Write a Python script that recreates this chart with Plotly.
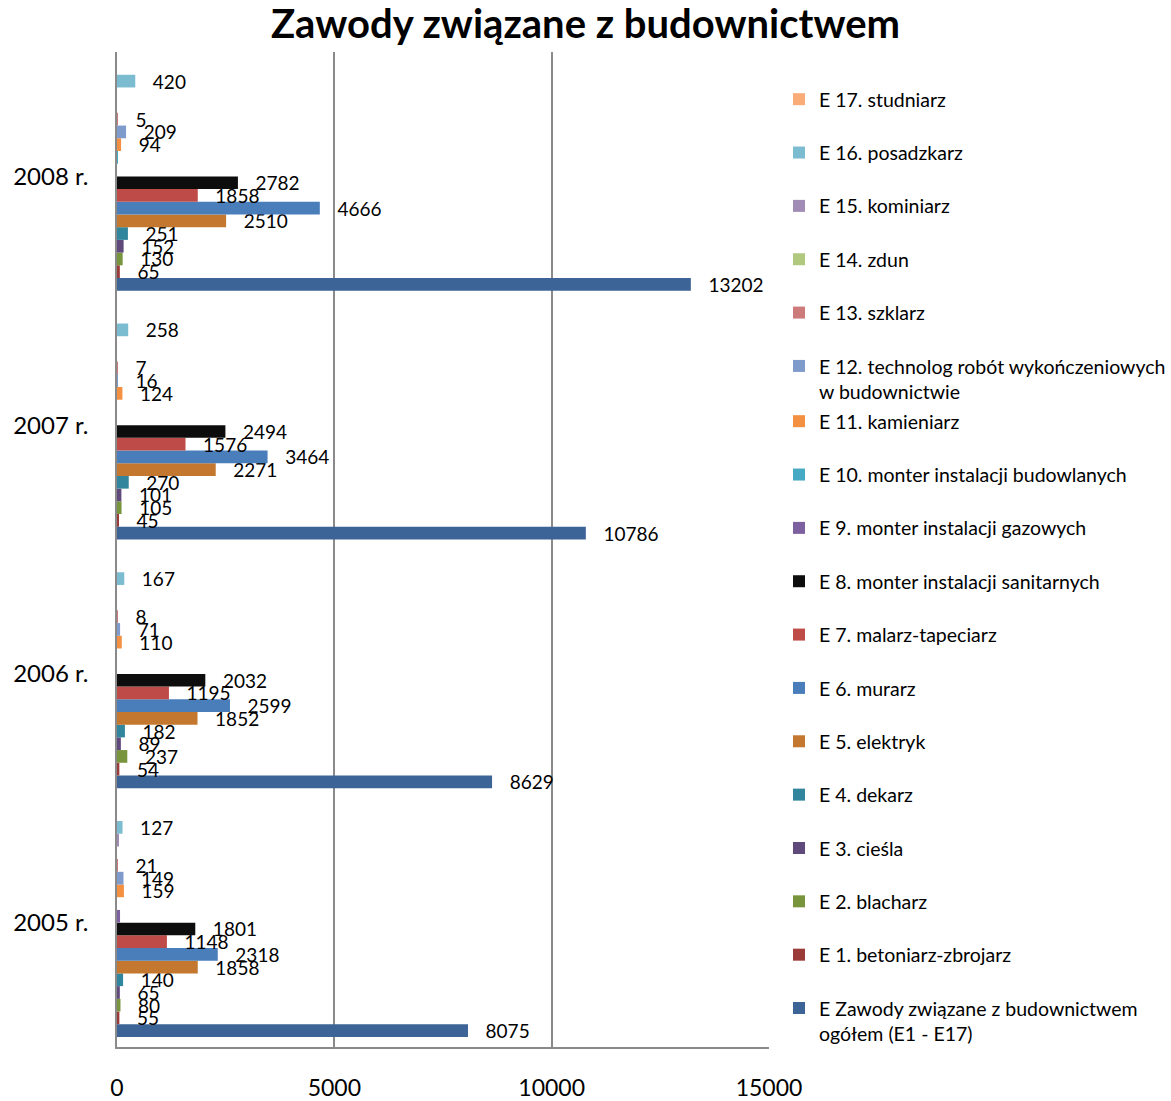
import plotly.graph_objects as go

years = ["2005 r.", "2006 r.", "2007 r.", "2008 r."]

series_names = [
    "E Zawody związane z budownictwem<br>ogółem (E1 - E17)",
    "E 1. betoniarz-zbrojarz",
    "E 2. blacharz",
    "E 3. cieśla",
    "E 4. dekarz",
    "E 5. elektryk",
    "E 6. murarz",
    "E 7. malarz-tapeciarz",
    "E 8. monter instalacji sanitarnych",
    "E 9. monter instalacji gazowych",
    "E 10. monter instalacji budowlanych",
    "E 11. kamieniarz",
    "E 12. technolog robót wykończeniowych<br>w budownictwie",
    "E 13. szklarz",
    "E 14. zdun",
    "E 15. kominiarz",
    "E 16. posadzkarz",
    "E 17. studniarz",
]

ogolem = [8075, 8629, 10786, 13202]
e1 = [55, 54, 45, 65]
e2 = [80, 237, 105, 130]
e3 = [65, 89, 101, 152]
e4 = [140, 182, 270, 251]
e5 = [1858, 1852, 2271, 2510]
e6 = [2318, 2599, 3464, 4666]
e7 = [1148, 1195, 1576, 1858]
e8 = [1801, 2032, 2494, 2782]
e9 = [70, None, None, None]
e10 = [None, None, None, 20]
e11 = [159, 110, 124, 94]
e12 = [149, 71, 16, 209]
e13 = [21, 8, 7, 5]
e14 = [None, None, None, None]
e15 = [35, None, None, None]
e16 = [127, 167, 258, 420]
e17 = [None, None, None, None]

# values drawn without a data label in the original
unlabeled = {(9, 0), (15, 0), (10, 3)}

values = [ogolem, e1, e2, e3, e4, e5, e6, e7, e8, e9, e10, e11, e12, e13, e14, e15, e16, e17]

colors = [
    "#3D6497", "#9B3B39", "#78943D", "#604A7C", "#31859D", "#C4772F",
    "#4A7EBB", "#BE4B48", "#0D0D0D", "#7D60A0", "#46AAC5", "#F39041",
    "#7F9BCB", "#CD7B7A", "#B0C97F", "#A08CB4", "#7CBCD1", "#F9AB78",
]

FONT = "Lato"
pad = "\u00a0\u00a0\u00a0"

fig = go.Figure()
for i, (name, vals, col) in enumerate(zip(series_names, values, colors)):
    texts = []
    for j, v in enumerate(vals):
        if v is None or (i, j) in unlabeled:
            texts.append("")
        else:
            texts.append(pad + str(v))
    fig.add_trace(go.Bar(
        y=years, x=vals, name=name, orientation="h",
        marker=dict(color=col, line=dict(width=0)),
        text=texts, textposition="outside", constraintext="none",
        cliponaxis=False,
        textfont=dict(family=FONT, size=19, color="black"),
        legendgroup="g%d" % i,
        legendrank=100 - i,
        legend="legend" if i >= 12 else "legend2",
    ))

W, H = 1171, 1101
plot_top, plot_bot = 52, 1047

legend_common = dict(
    font=dict(family=FONT, size=19.5, color="black"),
    traceorder="grouped",
    tracegroupgap=25,
    valign="top",
    itemwidth=30,
    bgcolor="rgba(0,0,0,0)",
    xanchor="left", yanchor="top",
    xref="container", yref="container",
    x=779 / W,
    maxheight=1.0,
)

fig.update_layout(
    width=W, height=H,
    paper_bgcolor="white", plot_bgcolor="white",
    margin=dict(l=117, r=W - 769, t=plot_top, b=H - plot_bot, pad=0, autoexpand=False),
    barmode="group", bargap=0.081, bargroupgap=0,
    title=dict(text="<b>Zawody związane z budownictwem</b>",
               font=dict(family=FONT, size=40, color="black"),
               x=0.5, xanchor="center", y=1 - 24 / H, yanchor="middle",
               xref="container", yref="container"),
    legend=dict(**legend_common, y=1 - 80 / H),
    legend2=dict(**legend_common, y=1 - 402 / H),
    xaxis=dict(range=[0, 15000], dtick=5000, tick0=0, tickformat="d",
               showgrid=True, gridcolor="#8A8A8A", gridwidth=1.5,
               showline=True, linecolor="#8A8A8A", linewidth=1.5,
               zeroline=False, ticks="",
               tickfont=dict(family=FONT, size=23, color="black"),
               ticklabelstandoff=20),
    yaxis=dict(showgrid=False, showline=True, linecolor="#8A8A8A", linewidth=1.5,
               ticks="", tickfont=dict(family=FONT, size=24, color="black"),
               ticklabelstandoff=22, categoryorder="array", categoryarray=years),
)

fig.write_html(
    "out.html",
    config={"displayModeBar": False},
    post_script="document.body.style.margin='0';document.body.style.overflow='hidden';",
)
